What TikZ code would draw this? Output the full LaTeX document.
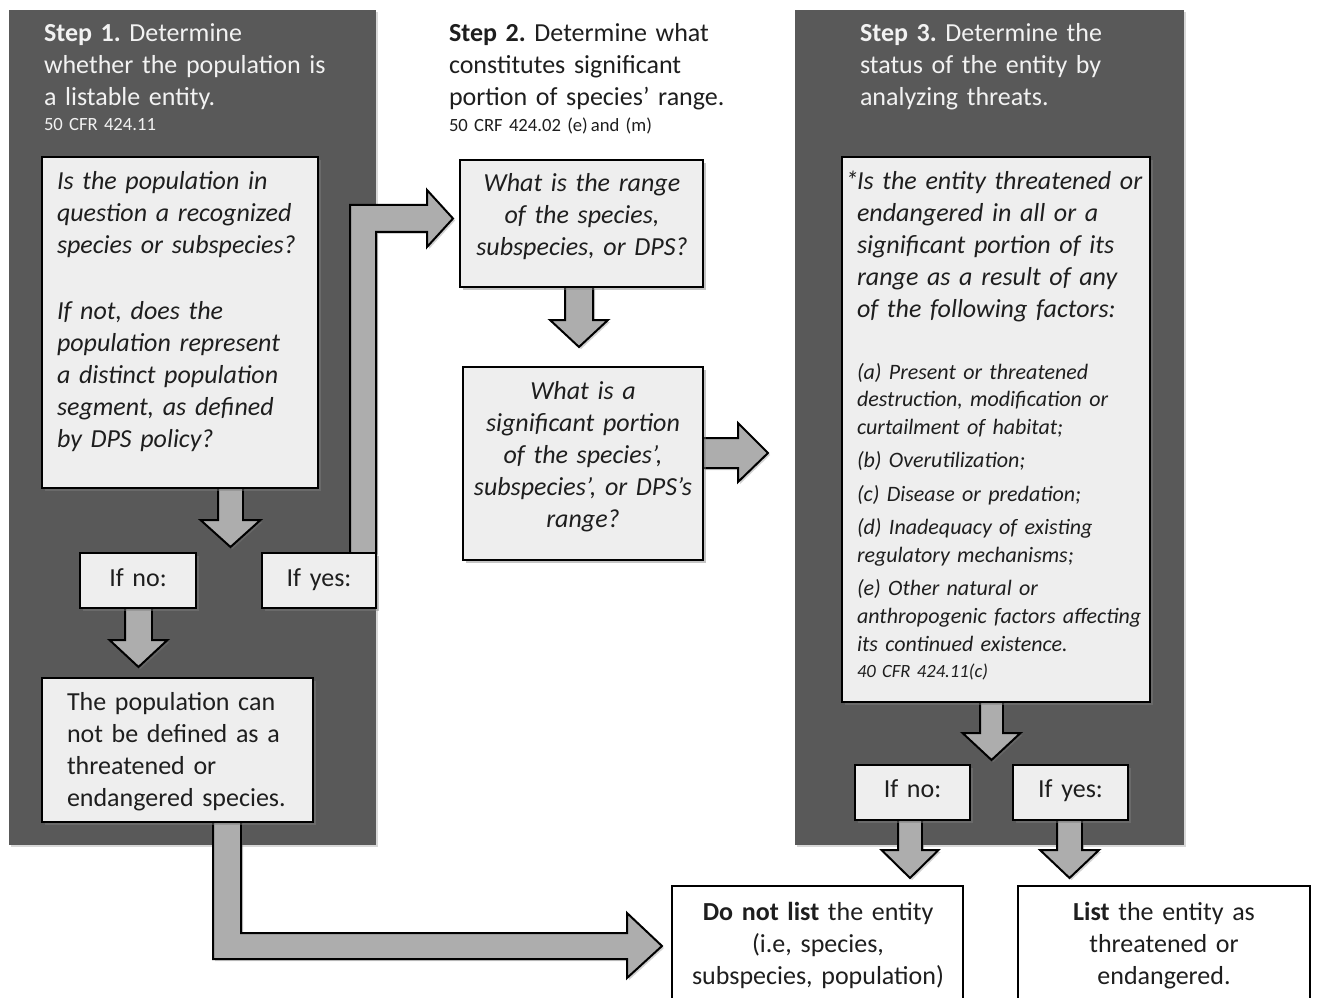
\documentclass[tikz,border=0pt]{standalone}
\usepackage{fontspec}
\setmainfont{Carlito}
\usetikzlibrary{shadows,fit}
\frenchspacing
\definecolor{panelgray}{HTML}{595959}
\definecolor{boxfill}{HTML}{EEEEEE}
\definecolor{arrowfill}{HTML}{ADADAD}
\definecolor{paneltext}{HTML}{F2F2F2}
\definecolor{darktext}{HTML}{1E1E1E}
\tikzset{
  panel/.style={fill=panelgray, draw=none, inner sep=0pt,
    drop shadow={shadow xshift=1.5pt, shadow yshift=-1.5pt, opacity=0.3}},
  qbox/.style={fill=boxfill, draw=black, line width=2.2pt, inner sep=0pt,
    drop shadow={shadow xshift=2.2pt, shadow yshift=-2.2pt, opacity=0.45}},
  wbox/.style={fill=white, draw=black, line width=2.2pt, inner sep=0pt},
  blockarrow/.style={fill=arrowfill, draw=black, line width=1.5pt, line join=miter,
    drop shadow={shadow xshift=1.5pt, shadow yshift=-1.5pt, opacity=0.35}},
  txt/.style={inner sep=0pt, outer sep=0pt, text=darktext, text width=330pt},
  lefttxt/.style={txt, align=left, anchor=base west},
  ctrtxt/.style={txt, align=center, anchor=base},
  bigfont/.style={font=\fontsize{19.5}{24}\selectfont\frenchspacing},
  bigit/.style={font=\fontsize{19.5}{24}\selectfont\itshape\frenchspacing},
  listit/.style={font=\fontsize{16.5}{20.8}\selectfont\itshape\frenchspacing},
  reffont/.style={font=\fontsize{14}{17}\selectfont\frenchspacing},
  refit/.style={font=\fontsize{14}{17}\selectfont\itshape\frenchspacing},
  onpanel/.style={text=paneltext}
}
\newcommand\blkdown[6]{%
  \draw[blockarrow] (#1-#5,#2) -- (#1-#5,#3) -- (#1-#6,#3) -- (#1,#4)
    -- (#1+#6,#3) -- (#1+#5,#3) -- (#1+#5,#2) -- cycle;}
\begin{document}
\begin{tikzpicture}[x=0.75pt,y=-0.75pt]
\useasboundingbox (0,0) rectangle (1319,998);
\clip (0,0) rectangle (1319,998);
\fill[white] (0,0) rectangle (1319,998);

% panels
\node[panel, fit={(9,10) (376,845)}] (panel1) {};
\node[panel, fit={(795,10) (1184,845)}] (panel3) {};

% headers
\node[lefttxt, bigfont, onpanel] (s1) at (44,42)
  {\textbf{Step 1.} Determine\\ whether the population is\\ a listable entity.};
\node[lefttxt, reffont, onpanel] (s1ref) at (44,131) {50 CFR 424.11};
\node[lefttxt, bigfont] (s2) at (449,42)
  {\textbf{Step 2.} Determine what\\ constitutes significant\\ portion of species’ range.};
\node[lefttxt, reffont] (s2ref) at (449,132) {50 CRF 424.02 (e)\,and (m)};
\node[lefttxt, bigfont, onpanel] (s3) at (860,42)
  {\textbf{Step 3.} Determine the\\ status of the entity by\\ analyzing threats.};

% block arrows
\blkdown{230.5}{488}{520}{547}{12.5}{30}
\blkdown{138.5}{608}{640}{667}{13.5}{29}
\blkdown{579}{287}{320}{347}{14}{29}
\blkdown{991.5}{702}{733}{760}{11.5}{29}
\blkdown{910}{820}{850}{878}{12}{28.5}
\blkdown{1069.5}{820}{850}{878}{12.5}{29.5}
% right arrow from significant portion box
\draw[blockarrow] (703,438) -- (738,438) -- (738,423) -- (768,453)
  -- (738,482) -- (738,468) -- (703,468) -- cycle;
% If yes (step 1) to range box
\draw[blockarrow] (350,553) -- (350,205) -- (427,205) -- (427,190) -- (453,218.5)
  -- (427,247) -- (427,232) -- (376,232) -- (376,553) -- cycle;
% not defined box to Do not list
\draw[blockarrow] (213,822) -- (213,959) -- (627,959) -- (627,978) -- (662,946)
  -- (627,913) -- (627,933) -- (241,933) -- (241,822) -- cycle;

% boxes
\node[qbox, fit={(42,157) (318,488)}] (q1) {};
\node[qbox, fit={(80,553) (196,608)}] (ifno1) {};
\node[qbox, fit={(262,553) (376,608)}] (ifyes1) {};
\node[qbox, fit={(42,678) (313,822)}] (notdef) {};
\node[qbox, fit={(460,160) (703,287)}] (range) {};
\node[qbox, fit={(463,367) (703,560)}] (sigp) {};
\node[qbox, fit={(842,157) (1150,702)}] (threat) {};
\node[qbox, fit={(855,765) (970,820)}] (ifno3) {};
\node[qbox, fit={(1013,765) (1128,820)}] (ifyes3) {};
\node[wbox, fit={(672,886) (963,1012)}] (donot) {};
\node[wbox, fit={(1018,886) (1310,1012)}] (list) {};

% box texts
\node[lefttxt, bigit] (q1t) at (57,190)
  {Is the population in\\ question a recognized\\ species or subspecies?\\[25.5pt]
   If not, does the\\ population represent\\ a distinct population\\ segment, as defined\\ by DPS policy?};
\node[ctrtxt, bigfont] (ifno1t) at (138,586) {If no:};
\node[ctrtxt, bigfont] (ifyes1t) at (319,586) {If yes:};
\node[lefttxt, bigfont] (notdeft) at (67,710)
  {The population can\\ not be defined as a\\ threatened or\\ endangered species.};
\node[ctrtxt, bigit] (ranget) at (582,192)
  {What is the range\\ of the species,\\ subspecies, or DPS?};
\node[ctrtxt, bigit] (sigpt) at (583,399)
  {What is a\\ significant portion\\ of the species’,\\ subspecies’, or DPS’s\\ range?};
\node[lefttxt, bigit] (threatq) at (857,190)
  {\llap{*\kern-1pt}Is the entity threatened or\\ endangered in all or a\\ significant portion of its\\ range as a result of any\\ of the following factors:};
\node[lefttxt, listit] (threatl) at (857,379)
  {(a) Present or threatened\\ destruction, modification or\\ curtailment of habitat;\\[4pt]
   (b) Overutilization;\\[4.5pt] (c) Disease or predation;\\[4pt]
   (d) Inadequacy of existing\\ regulatory mechanisms;\\[4.5pt]
   (e) Other natural or\\ anthropogenic factors affecting\\ its continued existence.};
\node[lefttxt, refit] (threatref) at (857,677) {40 CFR 424.11(c)};
\node[ctrtxt, bigfont] (ifno3t) at (912.5,797) {If no:};
\node[ctrtxt, bigfont] (ifyes3t) at (1070.5,797) {If yes:};
\node[ctrtxt, bigfont] (donott) at (818,920)
  {\textbf{Do not list} the entity\\ (i.e, species,\\ subspecies, population)};
\node[ctrtxt, bigfont] (listt) at (1164,920)
  {\textbf{List} the entity as\\ threatened or\\ endangered.};
\end{tikzpicture}
\end{document}
